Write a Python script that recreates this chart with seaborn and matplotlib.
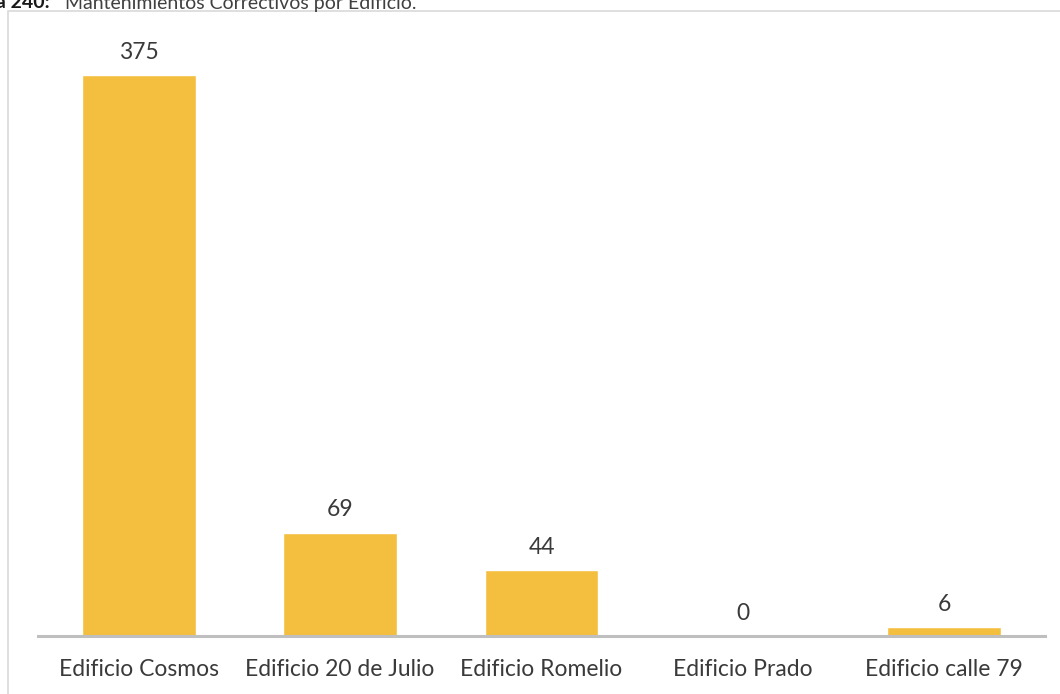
import matplotlib
matplotlib.use("Agg")
import matplotlib.pyplot as plt
import matplotlib.patches as mpatches
import seaborn as sns
import pandas as pd

# datos
edificios = ["Edificio Cosmos", "Edificio 20 de Julio", "Edificio Romelio",
             "Edificio Prado", "Edificio calle 79"]
mantenimientos = [375, 69, 44, 0, 6]

titulo_prefijo = "Gráfica 240:"
titulo = "Mantenimientos Correctivos por Edificio."

df = pd.DataFrame({"Edificio": edificios, "Mantenimientos": mantenimientos})

sns.set_theme(style="white")
plt.rcParams["font.family"] = ["Lato", "DejaVu Sans"]

W, H = 1060, 694
fig = plt.figure(figsize=(W / 100, H / 100), dpi=100)
ax = fig.add_axes([38 / W, 1 - 636 / H, (1045 - 38) / W, (636 - 38) / H])

sns.barplot(data=df, x="Edificio", y="Mantenimientos", color="#F4BE3F",
            saturation=1, width=0.565, ax=ax)

ax.set_ylim(0, 400)
ax.set_xlim(-0.5, 4.5)
ax.set_xlabel("")
ax.set_ylabel("")
ax.set_yticks([])
for lado in ["top", "left", "right"]:
    ax.spines[lado].set_visible(False)
ax.spines["bottom"].set_color("#BFBFBF")
ax.spines["bottom"].set_linewidth(2.2)
ax.tick_params(axis="x", length=0, pad=16.5, labelsize=16.5, colors="#3a3a3a")

for i, v in enumerate(mantenimientos):
    ax.annotate(str(v), (i, v), xytext=(0, 9), textcoords="offset points",
                ha="center", va="bottom", fontsize=16.5, color="#3a3a3a")

# marco gris claro alrededor del gráfico
marco = mpatches.Rectangle((8 / W, -0.05), 1.1, 1 - 10.5 / H + 0.05,
                           transform=fig.transFigure, fill=False,
                           edgecolor="#D9D9D9", linewidth=1.2, clip_on=False)
fig.patches.append(marco)

# título parcialmente cortado arriba, como en la original
fig.text(50 / W, 1 - 8.5 / H, titulo_prefijo, ha="right", va="baseline",
         fontsize=14, fontweight="bold", color="#1a1a1a")
fig.text(65 / W, 1 - 8.5 / H, titulo, ha="left", va="baseline",
         fontsize=14, color="#404040")

fig.savefig("out.png", dpi=100)
